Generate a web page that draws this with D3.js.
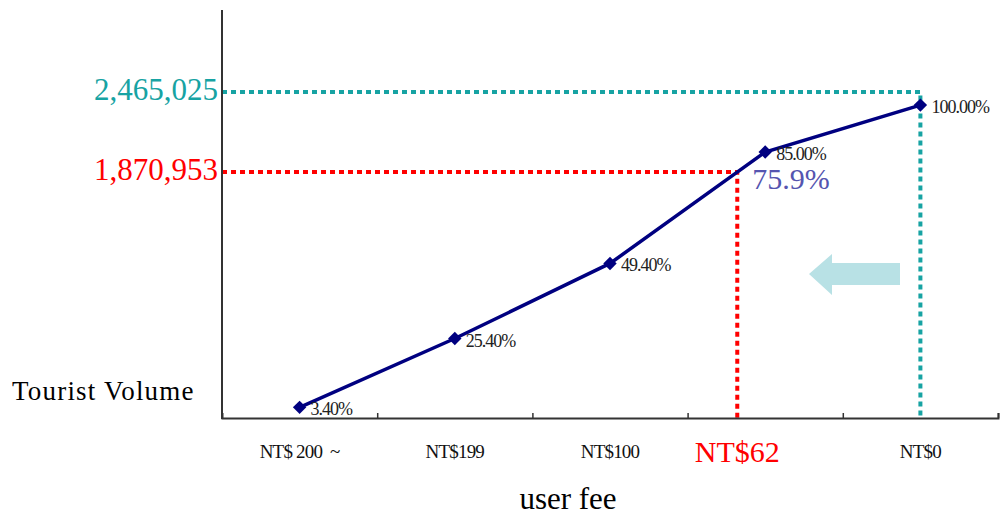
<!DOCTYPE html>
<html><head><meta charset="utf-8">
<script src="https://cdn.jsdelivr.net/npm/d3@7"></script>
<style>body{margin:0;background:#fff}svg{display:block}</style>
</head><body><svg id="c" width="1000" height="517"></svg>
<script>
const categories = ["NT$ 200  ~", "NT$199", "NT$100", "NT$62", "NT$0"];
const shares = [3.4, 25.4, 49.4, 85.0, 100.0];
const shareLabels = ["3.40%", "25.40%", "49.40%", "85.00%", "100.00%"];
const volumeLabels = ["2,465,025", "1,870,953"];
const markedShareLabel = "75.9%";
const markedFeeLabel = "NT$62";
// annotation reference values (in the chart's own data units)
const fullVolumeLevel = 104.2;   // teal reference level
const markedPosition = 2.82;     // between NT$100 and next point
const yTitle = "Tourist Volume";
const xTitle = "user fee";

(function () {
const svg = d3.select("#c");
const mL = 222, mR = 998, mT = 10, mB = 418;
const x = d3.scaleLinear().domain([-0.5, 4.5]).range([mL, mR]);
const y = d3.scaleLinear().domain([0, 130.4]).range([mB, mT]);

const i0 = Math.floor(markedPosition);
const markedShare = shares[i0] + (markedPosition - i0) * (shares[i0 + 1] - shares[i0]);

const serif = "'Liberation Serif','DejaVu Serif',serif";
const teal = "#17a3a3", red = "#ff0000";

svg.append("path")
  .attr("d", `M${mL},${y(fullVolumeLevel)}H${x(4)}V${mB}`)
  .attr("fill", "none").attr("stroke", teal).attr("stroke-width", 4)
  .attr("stroke-dasharray", "5,4");
svg.append("path")
  .attr("d", `M${mL},${y(markedShare)}H${x(markedPosition)}V${mB}`)
  .attr("fill", "none").attr("stroke", red).attr("stroke-width", 4)
  .attr("stroke-dasharray", "5,4");

const xAxis = d3.axisBottom(d3.scaleLinear().domain([0, 5]).range([mL, mR]))
  .tickValues([1, 2, 3, 4, 5]).tickSize(-5).tickFormat("");
const gx = svg.append("g").attr("transform", `translate(0,${mB})`).call(xAxis);
gx.select(".domain").attr("stroke", "#333").attr("stroke-width", 2);
gx.selectAll(".tick line").attr("stroke", "#333").attr("stroke-width", 1.5);
svg.append("line").attr("x1", mL).attr("x2", mL).attr("y1", mT).attr("y2", mB + 1)
  .attr("stroke", "#333").attr("stroke-width", 2);

svg.selectAll("text.cat").data(categories).join("text")
  .attr("class", "cat")
  .style("white-space", "pre")
  .attr("x", (d, i) => d === markedFeeLabel ? x(markedPosition) : x(i))
  .attr("y", d => d === markedFeeLabel ? 462 : 458)
  .attr("text-anchor", "middle")
  .attr("font-family", serif)
  .attr("font-size", d => d === markedFeeLabel ? 30 : 19)
  .attr("letter-spacing", d => d === markedFeeLabel ? 0 : -0.8)
  .attr("fill", d => d === markedFeeLabel ? red : "#111")
  .text(d => d);

const pts = shares.map((v, i) => [x(i), y(v)]);
svg.append("path").datum(pts)
  .attr("d", d3.line())
  .attr("fill", "none").attr("stroke", "#000080").attr("stroke-width", 3.5);
svg.selectAll("path.mk").data(pts).join("path")
  .attr("class", "mk")
  .attr("transform", d => `translate(${d[0]},${d[1]}) rotate(45)`)
  .attr("d", d3.symbol(d3.symbolSquare, 90)())
  .attr("fill", "#000080");
svg.selectAll("text.pl").data(shares).join("text")
  .attr("class", "pl")
  .attr("x", (d, i) => x(i) + 11)
  .attr("y", d => y(d) + 8)
  .attr("font-family", serif).attr("font-size", 18).attr("letter-spacing", -1)
  .attr("fill", "#222")
  .text((d, i) => shareLabels[i]);

svg.append("text").attr("x", 218).attr("y", y(fullVolumeLevel) + 8)
  .attr("text-anchor", "end").attr("font-family", serif).attr("font-size", 31)
  .attr("fill", teal).text(volumeLabels[0]);
svg.append("text").attr("x", 218).attr("y", y(markedShare) + 8)
  .attr("text-anchor", "end").attr("font-family", serif).attr("font-size", 31)
  .attr("fill", red).text(volumeLabels[1]);

svg.append("text").attr("x", x(markedPosition) + 15).attr("y", y(markedShare) + 17)
  .attr("font-family", serif).attr("font-size", 30).attr("fill", "#5555b0")
  .text(markedShareLabel);

svg.append("path")
  .attr("d", "M809,274L832,254V263H900V285H832V295Z")
  .attr("fill", "#b8e1e5");

svg.append("text").attr("x", 12).attr("y", 400)
  .attr("font-family", serif).attr("font-size", 27).attr("letter-spacing", 1.2)
  .attr("fill", "#000").text(yTitle);
svg.append("text").attr("x", 568).attr("y", 509).attr("text-anchor", "middle")
  .attr("font-family", serif).attr("font-size", 31).attr("fill", "#000").text(xTitle);
})();
</script></body></html>
